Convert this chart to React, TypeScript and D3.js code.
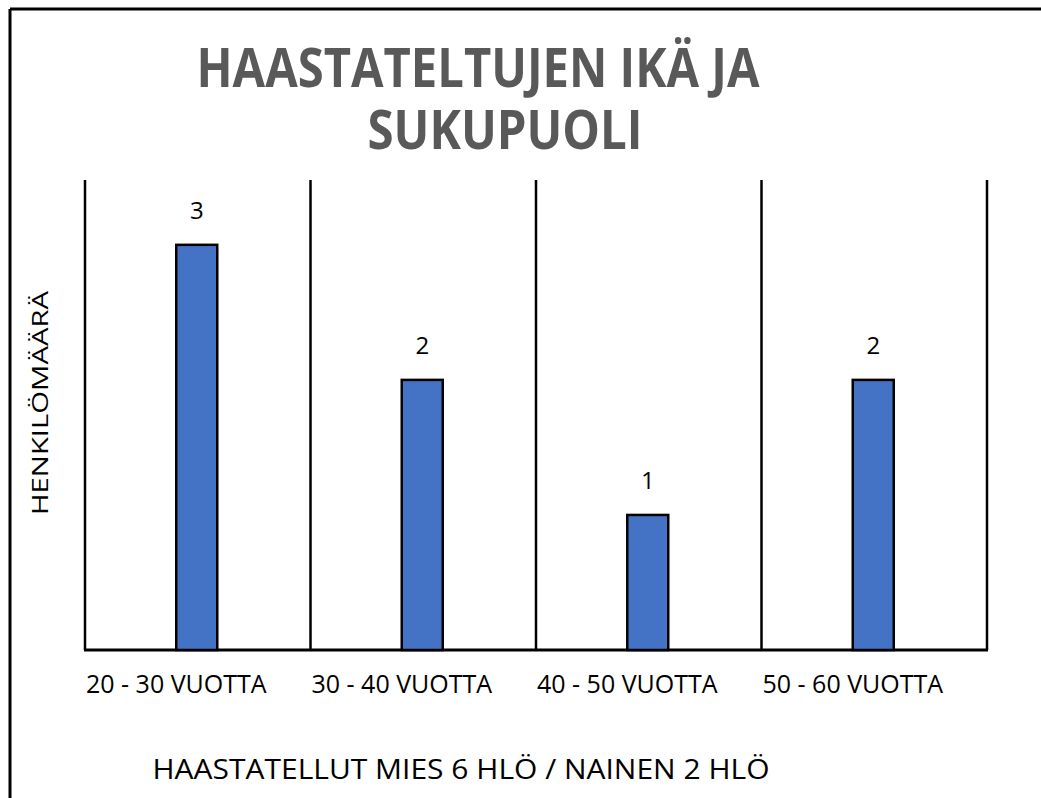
import React from "react";
import { scaleBand, scaleLinear } from "d3";

const categories = ["20 - 30 VUOTTA", "30 - 40 VUOTTA", "40 - 50 VUOTTA", "50 - 60 VUOTTA"];
const values = [3, 2, 1, 2];
const titleLines = ["HAASTATELTUJEN IKÄ JA", "SUKUPUOLI"];
const yTitle = "HENKILÖMÄÄRÄ";
const footer = "HAASTATELLUT MIES 6 HLÖ / NAINEN 2 HLÖ";

const W = 1041;
const H = 798;
const font = "'Open Sans', 'Noto Sans', sans-serif";

export default function App() {
  const left = 85;
  const right = 987;
  const top = 180;
  const bottom = 650;

  const x = scaleBand<string>().domain(categories).range([left, right]);
  const y = scaleLinear().domain([0, 3.48]).range([bottom, top]);
  const barW = 41;
  const gridX = [...categories.map((c) => x(c) as number), right];

  return (
    <svg
      width={W}
      height={H}
      style={{ position: "absolute", left: 0, top: 0, background: "white" }}
      fontFamily={font}
    >
      {/* slide frame */}
      <line x1={10} y1={9} x2={W} y2={9} stroke="#000" strokeWidth={3} />
      <line x1={10} y1={9} x2={10} y2={H} stroke="#000" strokeWidth={3} />

      {/* two-line title kept in one text element */}
      <text textAnchor="middle" fontSize={54} fontWeight="bold" fill="#595959">
        {titleLines.map((t, i) => (
          <tspan
            key={t}
            x={i === 0 ? 478 : 505}
            y={87 + i * 62}
            textLength={i === 0 ? 563 : 275}
            lengthAdjust="spacingAndGlyphs"
          >
            {t}
          </tspan>
        ))}
      </text>

      {/* category separators */}
      {gridX.map((gx, i) => (
        <line key={i} x1={gx} y1={top} x2={gx} y2={bottom} stroke="#000" strokeWidth={2.5} />
      ))}
      <line x1={left - 1} y1={bottom} x2={right + 1} y2={bottom} stroke="#000" strokeWidth={3} />

      {categories.map((c, i) => {
        const cx = (x(c) as number) + x.bandwidth() / 2 - 1;
        return (
          <g key={c}>
            <rect
              x={cx - barW / 2}
              y={y(values[i])}
              width={barW}
              height={bottom - y(values[i])}
              fill="#4472C4"
              stroke="#000"
              strokeWidth={2.5}
            />
            <text x={cx} y={y(values[i]) - 26} textAnchor="middle" fontSize={24} fill="#000">
              {values[i]}
            </text>
            <text x={(x(c) as number) + 1} y={693} fontSize={25} fill="#000">
              {c}
            </text>
          </g>
        );
      })}

      <text
        transform={`translate(48,403) rotate(-90)`}
        textAnchor="middle"
        fontSize={21}
        fill="#000"
        textLength={224}
        lengthAdjust="spacingAndGlyphs"
      >
        {yTitle}
      </text>

      <text x={461} y={779} textAnchor="middle" fontSize={27} fill="#000" textLength={617} lengthAdjust="spacingAndGlyphs">
        {footer}
      </text>
    </svg>
  );
}
